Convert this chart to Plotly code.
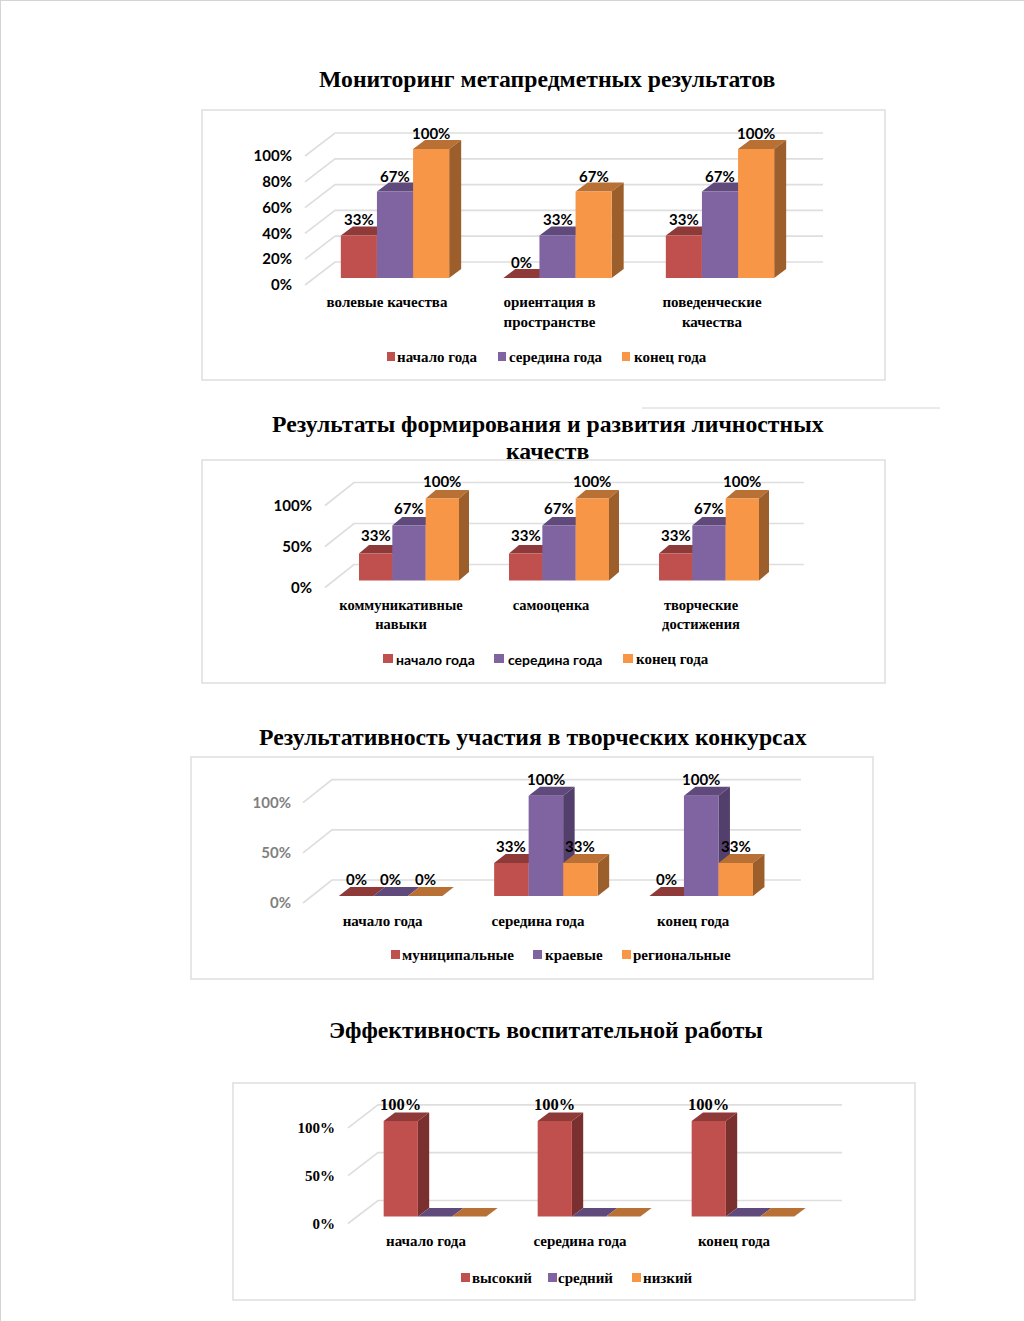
import plotly.graph_objects as go

W, H = 1024, 1321
COLORS = ["#C0504D", "#8064A2", "#F79646"]
TOPS = ["#8E3A38", "#60497B", "#B87035"]
SIDES = ["#7A302E", "#533F6C", "#9C5F2B"]
GRID = "#DEDEDE"
SERIF = "Liberation Serif"
SANS = "Lato"

# ---- data ----
c1_title = ["Мониторинг метапредметных результатов"]
c1_categories = ["волевые качества", "ориентация в<br>пространстве", "поведенческие<br>качества"]
c1_series = ["начало года", "середина года", "конец года"]
c1_start = [33, 0, 33]
c1_middle = [67, 33, 67]
c1_end = [100, 67, 100]
c1_ticks = [0, 20, 40, 60, 80, 100]

c2_title = ["Результаты формирования и развития личностных", "качеств"]
c2_categories = ["коммуникативные<br>навыки", "самооценка", "творческие<br>достижения"]
c2_series = ["начало года", "середина года", "конец года"]
c2_start = [33, 33, 33]
c2_middle = [67, 67, 67]
c2_end = [100, 100, 100]
c2_ticks = [0, 50, 100]

c3_title = ["Результативность участия в творческих конкурсах"]
c3_categories = ["начало года", "середина года", "конец года"]
c3_series = ["муниципальные", "краевые", "региональные"]
c3_municipal = [0, 33, 0]
c3_regional_edge = [0, 100, 100]
c3_regional = [0, 33, 33]
c3_ticks = [0, 50, 100]

c4_title = ["Эффективность воспитательной работы"]
c4_categories = ["начало года", "середина года", "конец года"]
c4_series = ["высокий", "средний", "низкий"]
c4_high = [100, 100, 100]
c4_mid = [0, 0, 0]
c4_low = [0, 0, 0]
c4_ticks = [0, 50, 100]

# ---- layout of each panel, in page pixels ----
charts = [
    dict(title=c1_title, title_x=547, title_y=[79], cats=c1_categories, names=c1_series,
         vals=[c1_start, c1_middle, c1_end], ticks=c1_ticks, frame=(202, 110, 885, 380),
         c0=395, sp=162.5, base=278, h=129, dx=12, dy=9, wall=(305, 335, 823), tick_right=292,
         tick_color="#000000", label_font=SANS, label_size=15, label_lift=16, tick_font=SANS, tick_size=15,
         cat_size=15, cat_shift=-8, standoff=4,
         legend=[(387, 397), (498, 509), (622, 634)], leg_y=357, leg_fonts=[SERIF] * 3, sw=8, hide_zero=False),
    dict(title=c2_title, title_x=547.5, title_y=[424, 451], cats=c2_categories, names=c2_series,
         vals=[c2_start, c2_middle, c2_end], ticks=c2_ticks, frame=(202, 460, 885, 683),
         c0=409, sp=150, base=580.5, h=82, dx=10, dy=8.5, wall=(325, 354, 804), tick_right=312,
         tick_color="#000000", label_font=SANS, label_size=15, label_lift=18, tick_font=SANS, tick_size=15,
         cat_size=14.5, cat_shift=-8, standoff=5,
         legend=[(383, 396), (494, 508), (623, 636)], leg_y=659, leg_fonts=[SANS, SANS, SERIF], sw=10, hide_zero=False),
    dict(title=c3_title, title_x=533, title_y=[737], cats=c3_categories, names=c3_series,
         vals=[c3_municipal, c3_regional_edge, c3_regional], ticks=c3_ticks, frame=(191, 757, 873, 979),
         c0=390.6, sp=155.3, base=896, h=100.3, dx=11.5, dy=9, wall=(303, 332, 801), tick_right=291,
         tick_color="#7F7F7F", label_font=SANS, label_size=15, label_lift=17, tick_font=SANS, tick_size=15,
         cat_size=15, cat_shift=-8, standoff=5,
         legend=[(391, 402), (533, 545), (622, 633)], leg_y=955, leg_fonts=[SERIF] * 3, sw=9, hide_zero=False),
    dict(title=c4_title, title_x=546, title_y=[1030], cats=c4_categories, names=c4_series,
         vals=[c4_high, c4_mid, c4_low], ticks=c4_ticks, frame=(233, 1083, 915, 1300),
         c0=435, sp=154, base=1216.5, h=95.6, dx=11.3, dy=8.5, wall=(348, 378, 842), tick_right=335,
         tick_color="#000000", label_font=SERIF, label_size=16.5, label_lift=16, tick_font=SERIF, tick_size=15,
         cat_size=15, cat_shift=-9, standoff=4,
         legend=[(461, 472), (548, 558), (632, 643)], leg_y=1278, leg_fonts=[SERIF] * 3, sw=9, hide_zero=True),
]


def px(x):
    return x / W


def py(y):
    return 1 - y / H


fig = go.Figure()
shapes, annotations = [], []
layout_axes = {}

# faint page edges and stray rule from the source document
for (x0, y0, x1, y1) in [(0, 0.5, W, 0.5), (0.5, 0, 0.5, H), (642, 408, 940, 408)]:
    shapes.append(dict(type="line", xref="paper", yref="paper", x0=px(x0), x1=px(x1), y0=py(y0), y1=py(y1),
                       line=dict(color="#D4D4D4", width=1), layer="below"))

for n, c in enumerate(charts, start=1):
    sx = "" if n == 1 else str(n)
    xref, yref = "x" + sx, "y" + sx
    fx0, fy0, fx1, fy1 = c["frame"]
    shapes.append(dict(type="rect", xref="paper", yref="paper", x0=px(fx0), x1=px(fx1), y0=py(fy0), y1=py(fy1),
                       line=dict(color=GRID, width=1.5), fillcolor="white", layer="below"))

    # subplot box covers the floor/wall and the bars' depth
    corner, back, right = c["wall"]
    left_px, right_px = corner - 2, right + 2
    top_px, bottom_px = c["base"] - c["h"] - 30, c["base"] + 9
    x_of = lambda p: (p - c["c0"]) / c["sp"]
    y_of = lambda p: (c["base"] - p) / c["h"] * 100
    layout_axes["xaxis" + sx] = dict(
        domain=[px(left_px), px(right_px)], range=[x_of(left_px), x_of(right_px)], anchor=yref,
        tickmode="array", tickvals=list(range(len(c["cats"]))), ticktext=c["cats"],
        showgrid=False, zeroline=False, showline=False, ticks="", automargin=False,
        ticklabelshift=c["cat_shift"], ticklabelstandoff=c["standoff"],
        tickfont=dict(family=SERIF, size=c["cat_size"], color="black", weight="bold"))
    layout_axes["yaxis" + sx] = dict(
        domain=[py(bottom_px), py(top_px)], range=[y_of(bottom_px), y_of(top_px)], anchor=xref,
        tickmode="array", tickvals=c["ticks"], ticktext=[f"{t}%" for t in c["ticks"]],
        showgrid=False, zeroline=False, showline=False, ticks="", automargin=False,
        ticklabelshift=7, ticklabelstandoff=int(left_px - c["tick_right"] - 1),
        tickfont=dict(family=c["tick_font"], size=c["tick_size"], color=c["tick_color"], weight="bold"))

    # back-wall gridlines
    span = right - corner
    depth = back - corner
    for t in c["ticks"]:
        shapes.append(dict(type="path", xref=xref, yref=yref, xsizemode="pixel", ysizemode="pixel",
                           xanchor=x_of(corner), yanchor=t, layer="below",
                           path=f"M 0 -7 L {depth} 16 L {span} 16",
                           line=dict(color=GRID, width=1.7), fillcolor="rgba(0,0,0,0)"))

    bar_w = (1 - 1 / 3) / 3
    w_px = bar_w * c["sp"]
    dx, dy = c["dx"], c["dy"]
    for k, (name, vals) in enumerate(zip(c["names"], c["vals"])):
        fig.add_trace(go.Bar(x=list(range(len(vals))), y=vals, name=name, xaxis=xref, yaxis=yref,
                             marker=dict(color=COLORS[k], line=dict(width=0)), showlegend=False,
                             hovertemplate="%{y}%<extra>" + name + "</extra>"))
        for i, v in enumerate(vals):
            start = i - 1.5 * bar_w + k * bar_w
            shapes.append(dict(type="path", xref=xref, yref=yref, xsizemode="pixel", ysizemode="pixel",
                               xanchor=start, yanchor=v, layer="below", line=dict(width=0), fillcolor=TOPS[k],
                               path=f"M 0 0 L {w_px} 0 L {w_px + dx} {dy} L {dx} {dy} Z"))
            bar_px = v / 100 * c["h"]
            shapes.append(dict(type="path", xref=xref, yref=yref, xsizemode="pixel", ysizemode="pixel",
                               xanchor=start, yanchor=0, layer="below", line=dict(width=0), fillcolor=SIDES[k],
                               path=f"M {w_px} 0 L {w_px + dx} {dy} L {w_px + dx} {bar_px + dy} L {w_px} {bar_px} Z"))
            if not (c["hide_zero"] and v == 0):
                annotations.append(dict(xref=xref, yref=yref, x=start + bar_w / 2, y=v, yshift=c["label_lift"],
                                        text=f"{v}%", showarrow=False, yanchor="middle",
                                        font=dict(family=c["label_font"], size=c["label_size"], color="black",
                                                  weight="bold")))

    # title (one annotation per line, the source's line pitch is tighter than the font's)
    for line, ty in zip(c["title"], c["title_y"]):
        annotations.append(dict(xref="paper", yref="paper", x=px(c["title_x"]), y=py(ty), text=line,
                                showarrow=False, xanchor="center", yanchor="middle",
                                font=dict(family=SERIF, size=23.7, color="black", weight="bold")))

    # legend
    sw = c["sw"]
    for k, (sx_px, tx_px) in enumerate(c["legend"]):
        shapes.append(dict(type="rect", xref="paper", yref="paper", x0=px(sx_px), x1=px(sx_px + sw),
                           y0=py(c["leg_y"] - 5), y1=py(c["leg_y"] + 4), fillcolor=COLORS[k], line=dict(width=0)))
        fam = c["leg_fonts"][k]
        annotations.append(dict(xref="paper", yref="paper", x=px(tx_px), y=py(c["leg_y"]), text=c["names"][k],
                                showarrow=False, xanchor="left", yanchor="middle", xshift=-2,
                                font=dict(family=fam, size=15 if fam == SERIF else 14, color="black", weight="bold")))

fig.update_layout(width=W, height=H, margin=dict(l=0, r=0, t=0, b=0, autoexpand=False), paper_bgcolor="white",
                  plot_bgcolor="rgba(0,0,0,0)", barmode="group", bargap=1 / 3, bargroupgap=0,
                  showlegend=False, shapes=shapes, annotations=annotations, **layout_axes)

fig.write_html("out.html", config=dict(displayModeBar=False, responsive=False),
               post_script="document.body.style.margin='0';document.body.style.overflow='hidden';")
